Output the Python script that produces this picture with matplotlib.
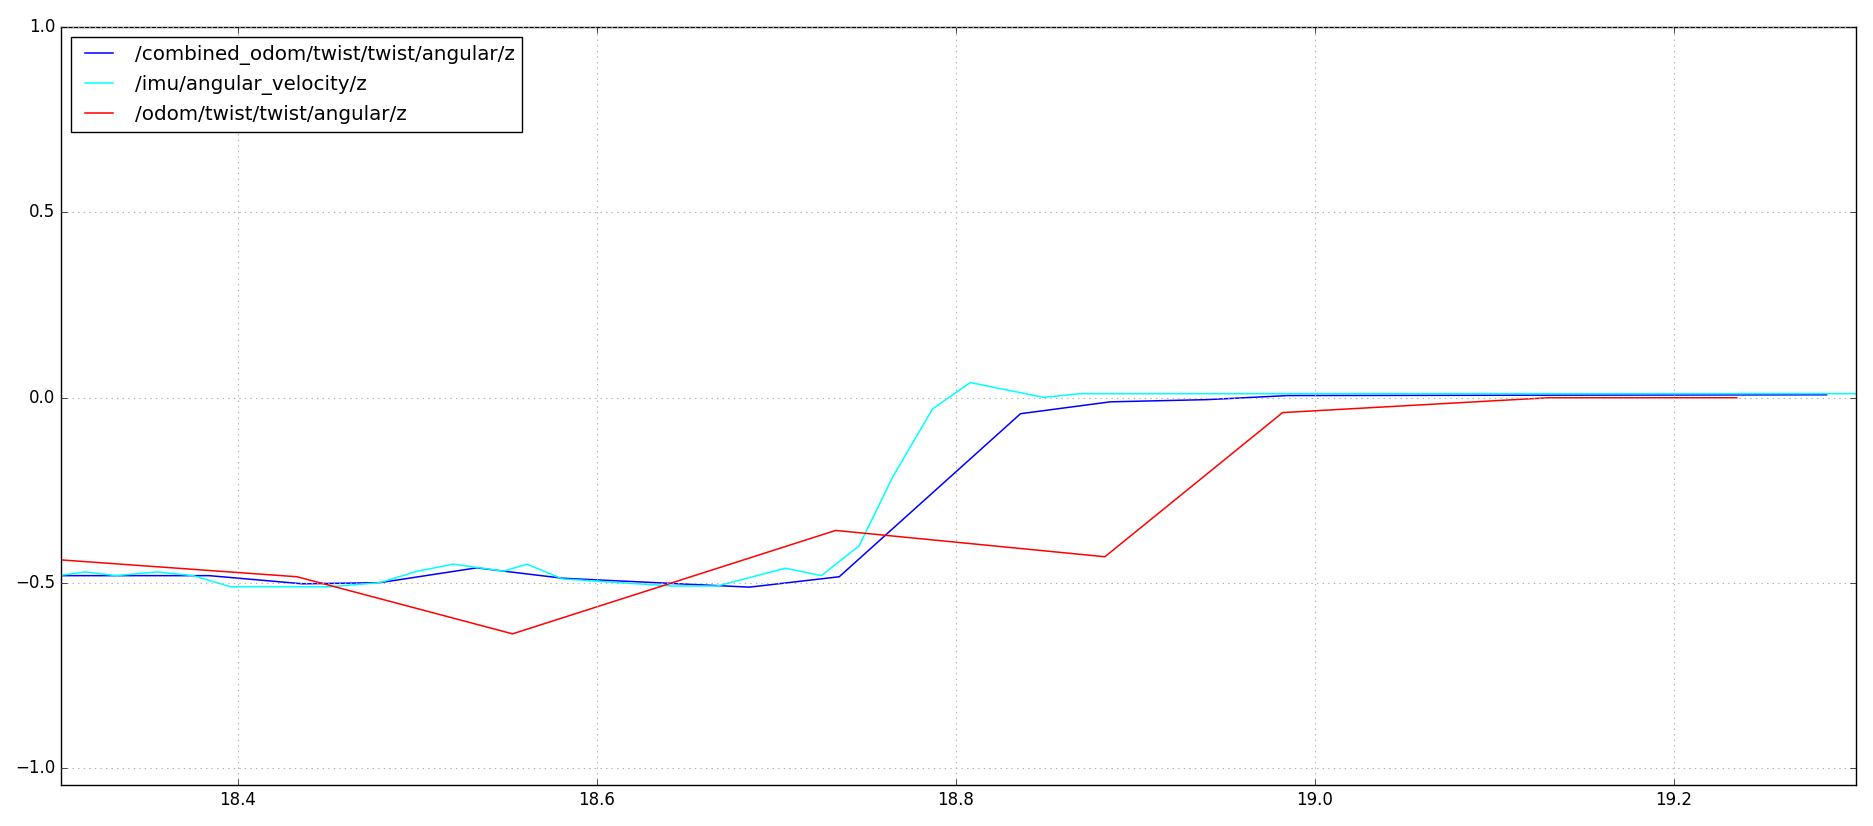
import matplotlib
matplotlib.use('Agg')
import matplotlib.pyplot as plt

plt.style.use('classic')

# /combined_odom/twist/twist/angular/z
combined_t = [18.30, 18.384, 18.436, 18.479, 18.533, 18.581, 18.685, 18.735,
              18.836, 18.886, 18.94, 18.985, 19.285]
combined_z = [-0.480, -0.480, -0.502, -0.499, -0.459, -0.487, -0.511, -0.483,
              -0.043, -0.011, -0.005, 0.006, 0.008]

# /imu/angular_velocity/z
imu_t = [18.30, 18.315, 18.332, 18.355, 18.375, 18.396, 18.451, 18.479,
         18.500, 18.520, 18.548, 18.561, 18.581, 18.642, 18.667, 18.705,
         18.725, 18.746, 18.765, 18.787, 18.808, 18.849, 18.869, 19.31]
imu_z = [-0.480, -0.470, -0.480, -0.470, -0.480, -0.510, -0.510, -0.499,
         -0.468, -0.449, -0.468, -0.449, -0.489, -0.508, -0.508, -0.460,
         -0.480, -0.400, -0.212, -0.030, 0.041, 0.001, 0.011, 0.011]

# /odom/twist/twist/angular/z
odom_t = [18.30, 18.433, 18.553, 18.733, 18.883, 18.982, 19.130, 19.235]
odom_z = [-0.437, -0.483, -0.637, -0.358, -0.429, -0.040, 0.0, 0.0]

fig = plt.figure(figsize=(18.73, 8.26), dpi=100)
ax = fig.add_axes([0.0326, 0.0496, 0.9584, 0.9175])

ax.plot(combined_t, combined_z, color='#0000ff', linewidth=1.1, label='/combined_odom/twist/twist/angular/z')
ax.plot(imu_t, imu_z, color='#00ffff', linewidth=1.1, label='/imu/angular_velocity/z')
ax.plot(odom_t, odom_z, color='#ff0000', linewidth=1.1, label='/odom/twist/twist/angular/z')

ax.set_xlim(18.3015, 19.3015)
ax.set_ylim(-1.045, 1.0)
ax.set_xticks([18.4, 18.6, 18.8, 19.0, 19.2])
ax.set_yticks([-1.0, -0.5, 0.0, 0.5, 1.0])
ax.tick_params(labelsize=12)
ax.grid(True, color='#b0b0b0', linestyle=':', linewidth=0.8)
ax.legend(loc='upper left', fontsize=14.3)

fig.savefig('out.png', dpi=100)
